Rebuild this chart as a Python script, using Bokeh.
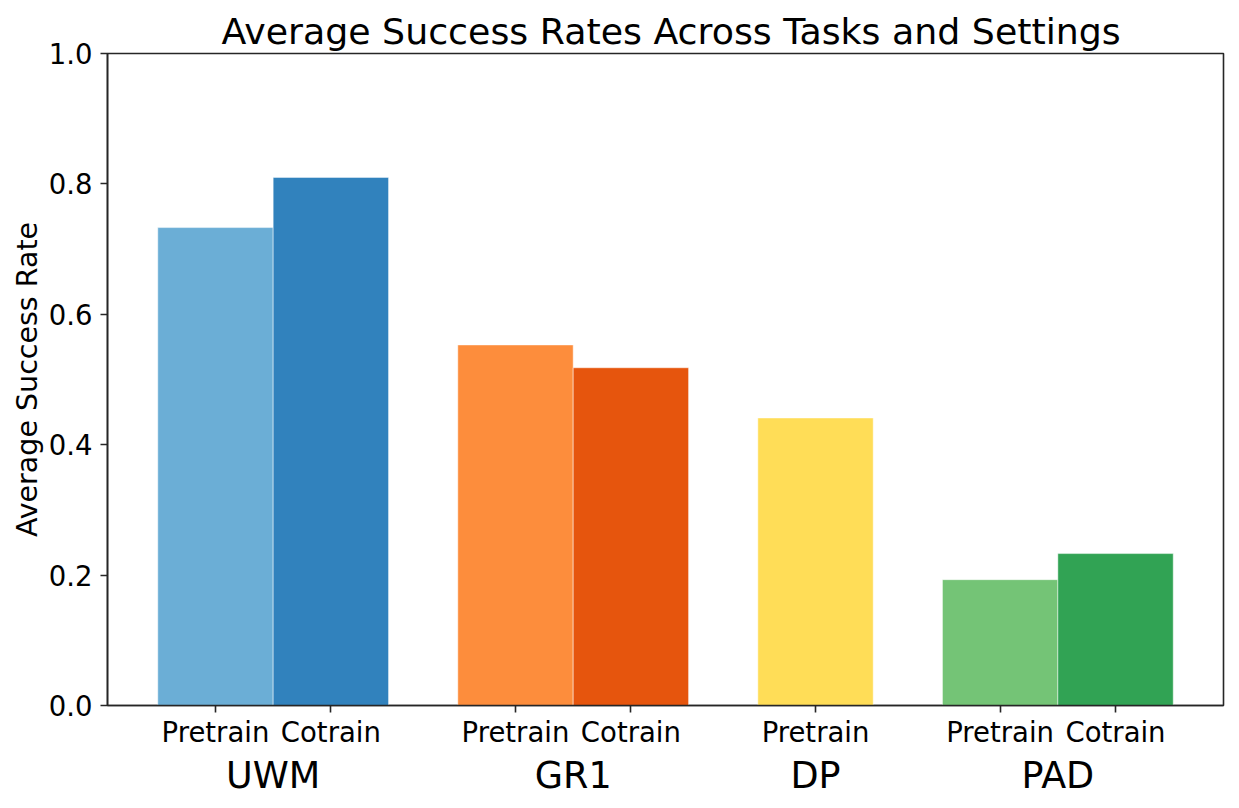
from bokeh.plotting import figure
from bokeh.models import FactorRange, FixedTicker, PrintfTickFormatter, ColumnDataSource
from bokeh.embed import file_html
from bokeh.resources import INLINE

models = ["UWM", "UWM", "GR1", "GR1", "DP", "PAD", "PAD"]
settings = ["Pretrain", "Cotrain", "Pretrain", "Cotrain", "Pretrain", "Pretrain", "Cotrain"]
success = [0.733, 0.810, 0.553, 0.518, 0.441, 0.193, 0.233]
colors = ["#6baed6", "#3182bd", "#fd8d3c", "#e6550d", "#ffdd57", "#74c476", "#31a354"]
y_ticks = [0.0, 0.2, 0.4, 0.6, 0.8, 1.0]

factors = list(zip(models, settings))
src = ColumnDataSource(dict(x=factors, top=success, color=colors))

FONT = "DejaVu Sans"
DARK = "#262626"

p = figure(
    x_range=FactorRange(*factors, factor_padding=0.0, group_padding=0.6,
                        range_padding=0.099, range_padding_units="percent"),
    y_range=(0, 1.0),
    frame_width=1116, frame_height=652,
    output_backend="svg", toolbar_location=None,
    title="Average Success Rates Across Tasks and Settings",
    min_border_left=107, min_border_top=10, min_border_right=6, min_border_bottom=10,
    margin=(6, 0, 0, 0),
)

p.vbar(x="x", top="top", width=1.0, bottom=0, fill_color="color", source=src,
       line_color="white", line_width=0.8, line_alpha=0.6)

p.title.align = "left"
p.title.offset = 114
p.title.text_font = FONT
p.title.text_font_size = "36.3px"
p.title.text_font_style = "normal"
p.title.text_color = "black"
p.title.standoff = 2

p.xgrid.visible = False
p.ygrid.visible = False
p.outline_line_color = DARK
p.outline_line_width = 1.6
p.outline_line_alpha = 1.0

yax = p.yaxis[0]
yax.ticker = FixedTicker(ticks=y_ticks)
yax.formatter = PrintfTickFormatter(format="%.1f")
yax.axis_label = "Average Success Rate"
yax.axis_label_text_font = FONT
yax.axis_label_text_font_size = "28.5px"
yax.axis_label_text_font_style = "normal"
yax.axis_label_text_color = "black"
yax.axis_label_standoff = 2
yax.major_label_text_font = FONT
yax.major_label_text_font_size = "27.5px"
yax.major_label_text_color = "black"
yax.major_label_standoff = 8
yax.minor_tick_line_color = None
yax.major_tick_in = 0
yax.major_tick_out = 7
yax.major_tick_line_color = DARK
yax.major_tick_line_width = 1.6
yax.axis_line_color = DARK
yax.axis_line_width = 1.6

xax = p.xaxis[0]
xax.major_label_text_font = FONT
xax.major_label_text_font_size = "27.5px"
xax.major_label_text_color = "black"
xax.major_label_standoff = 3
xax.group_text_font = FONT
xax.group_text_font_size = "36.5px"
xax.group_text_font_style = "normal"
xax.group_text_color = "black"
xax.separator_line_color = None
xax.major_tick_in = 0
xax.major_tick_out = 7
xax.major_tick_line_color = DARK
xax.major_tick_line_width = 1.6
xax.axis_line_color = DARK
xax.axis_line_width = 1.6
xax.minor_tick_line_color = None

open("out.html", "w").write(file_html(p, INLINE))
